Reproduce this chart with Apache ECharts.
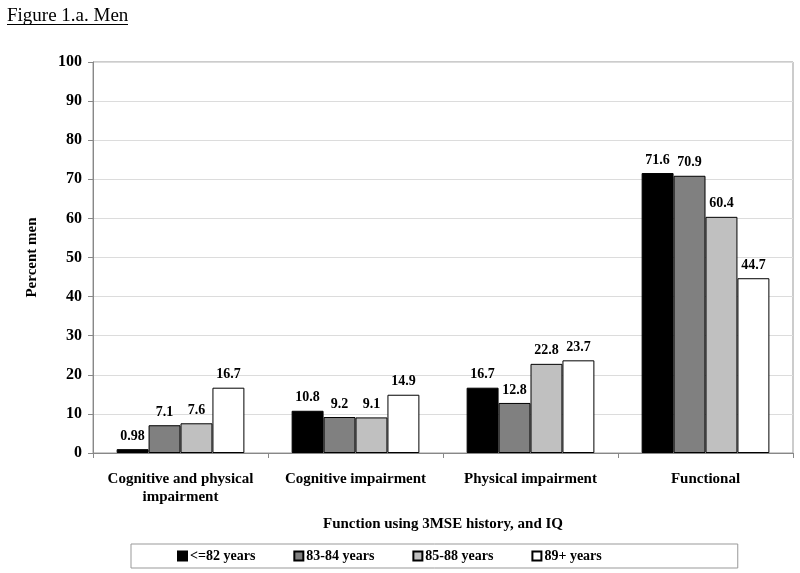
<!DOCTYPE html>
<html>
<head>
<meta charset="utf-8">
<script src="https://cdn.jsdelivr.net/npm/echarts@6/dist/echarts.min.js"></script>
<style>html,body{margin:0;padding:0;background:#fff}#c{width:800px;height:573px}</style>
</head>
<body>
<div id="c"></div>
<script>
const categories = ['Cognitive and physical\nimpairment', 'Cognitive impairment', 'Physical impairment', 'Functional'];
const seriesNames = ['<=82 years', '83-84 years', '85-88 years', '89+ years'];
const age82 = [0.98, 10.8, 16.7, 71.6];
const age8384 = [7.1, 9.2, 12.8, 70.9];
const age8588 = [7.6, 9.1, 22.8, 60.4];
const age89 = [16.7, 14.9, 23.7, 44.7];
const yTicks = [0, 10, 20, 30, 40, 50, 60, 70, 80, 90, 100];

const serif = '"Liberation Serif", "Times New Roman", serif';
const colors = ['#000000', '#808080', '#c0c0c0', '#ffffff'];
const values = [age82, age8384, age8588, age89];

const chart = echarts.init(document.getElementById('c'));
chart.setOption({
  animation: false,
  backgroundColor: '#ffffff',
  title: {
    text: 'Figure 1.a. Men',
    left: 2, top: 2,
    textStyle: { fontFamily: serif, fontSize: 19, fontWeight: 'normal', color: '#000' }
  },
  graphic: [{
    type: 'line',
    shape: { x1: 7, y1: 24.5, x2: 128, y2: 24.5 },
    style: { stroke: '#000', lineWidth: 1 }
  }],
  grid: {
    left: 93, right: 7, top: 62, bottom: 120,
    show: true, borderColor: '#999', borderWidth: 1
  },
  legend: {
    bottom: 5,
    left: 131,
    padding: [5, 136, 5, 46],
    itemGap: 38,
    itemWidth: 9,
    itemHeight: 9,
    icon: 'rect',
    borderColor: '#999',
    borderWidth: 1,
    textStyle: { fontFamily: serif, fontSize: 14, fontWeight: 'bold', color: '#000', padding: [0, 0, 0, -2] },
    data: seriesNames
  },
  xAxis: {
    type: 'category',
    data: categories,
    name: 'Function using 3MSE history, and IQ',
    nameLocation: 'middle',
    nameGap: 64,
    nameTextStyle: { fontFamily: serif, fontSize: 15, fontWeight: 'bold', color: '#000' },
    axisLine: { lineStyle: { color: '#888' } },
    axisTick: { show: true, length: 5, lineStyle: { color: '#888' } },
    axisLabel: { fontFamily: serif, fontSize: 15, fontWeight: 'bold', color: '#000', margin: 17, lineHeight: 18, interval: 0 }
  },
  yAxis: {
    type: 'value',
    min: 0, max: 100, interval: 10,
    name: 'Percent men',
    nameLocation: 'middle',
    nameGap: 53,
    nameTextStyle: { fontFamily: serif, fontSize: 15, fontWeight: 'bold', color: '#000' },
    axisLine: { show: true, lineStyle: { color: '#888' } },
    axisTick: { show: true, length: 5, lineStyle: { color: '#888' } },
    splitLine: { lineStyle: { color: '#dcdcdc' } },
    axisLabel: {
      fontFamily: serif, fontSize: 16, fontWeight: 'bold', color: '#000', margin: 11,
      formatter: v => yTicks.includes(v) ? String(v) : ''
    }
  },
  series: seriesNames.map((n, i) => ({
    name: n,
    type: 'bar',
    data: values[i],
    barGap: '0%',
    barCategoryGap: '27%',
    itemStyle: { color: colors[i], borderColor: '#000', borderWidth: 1 },
    label: {
      show: true, position: 'top', distance: 6,
      fontFamily: serif, fontSize: 14, fontWeight: 'bold', color: '#000',
      formatter: p => String(p.value)
    }
  }))
});
</script>
</body>
</html>
